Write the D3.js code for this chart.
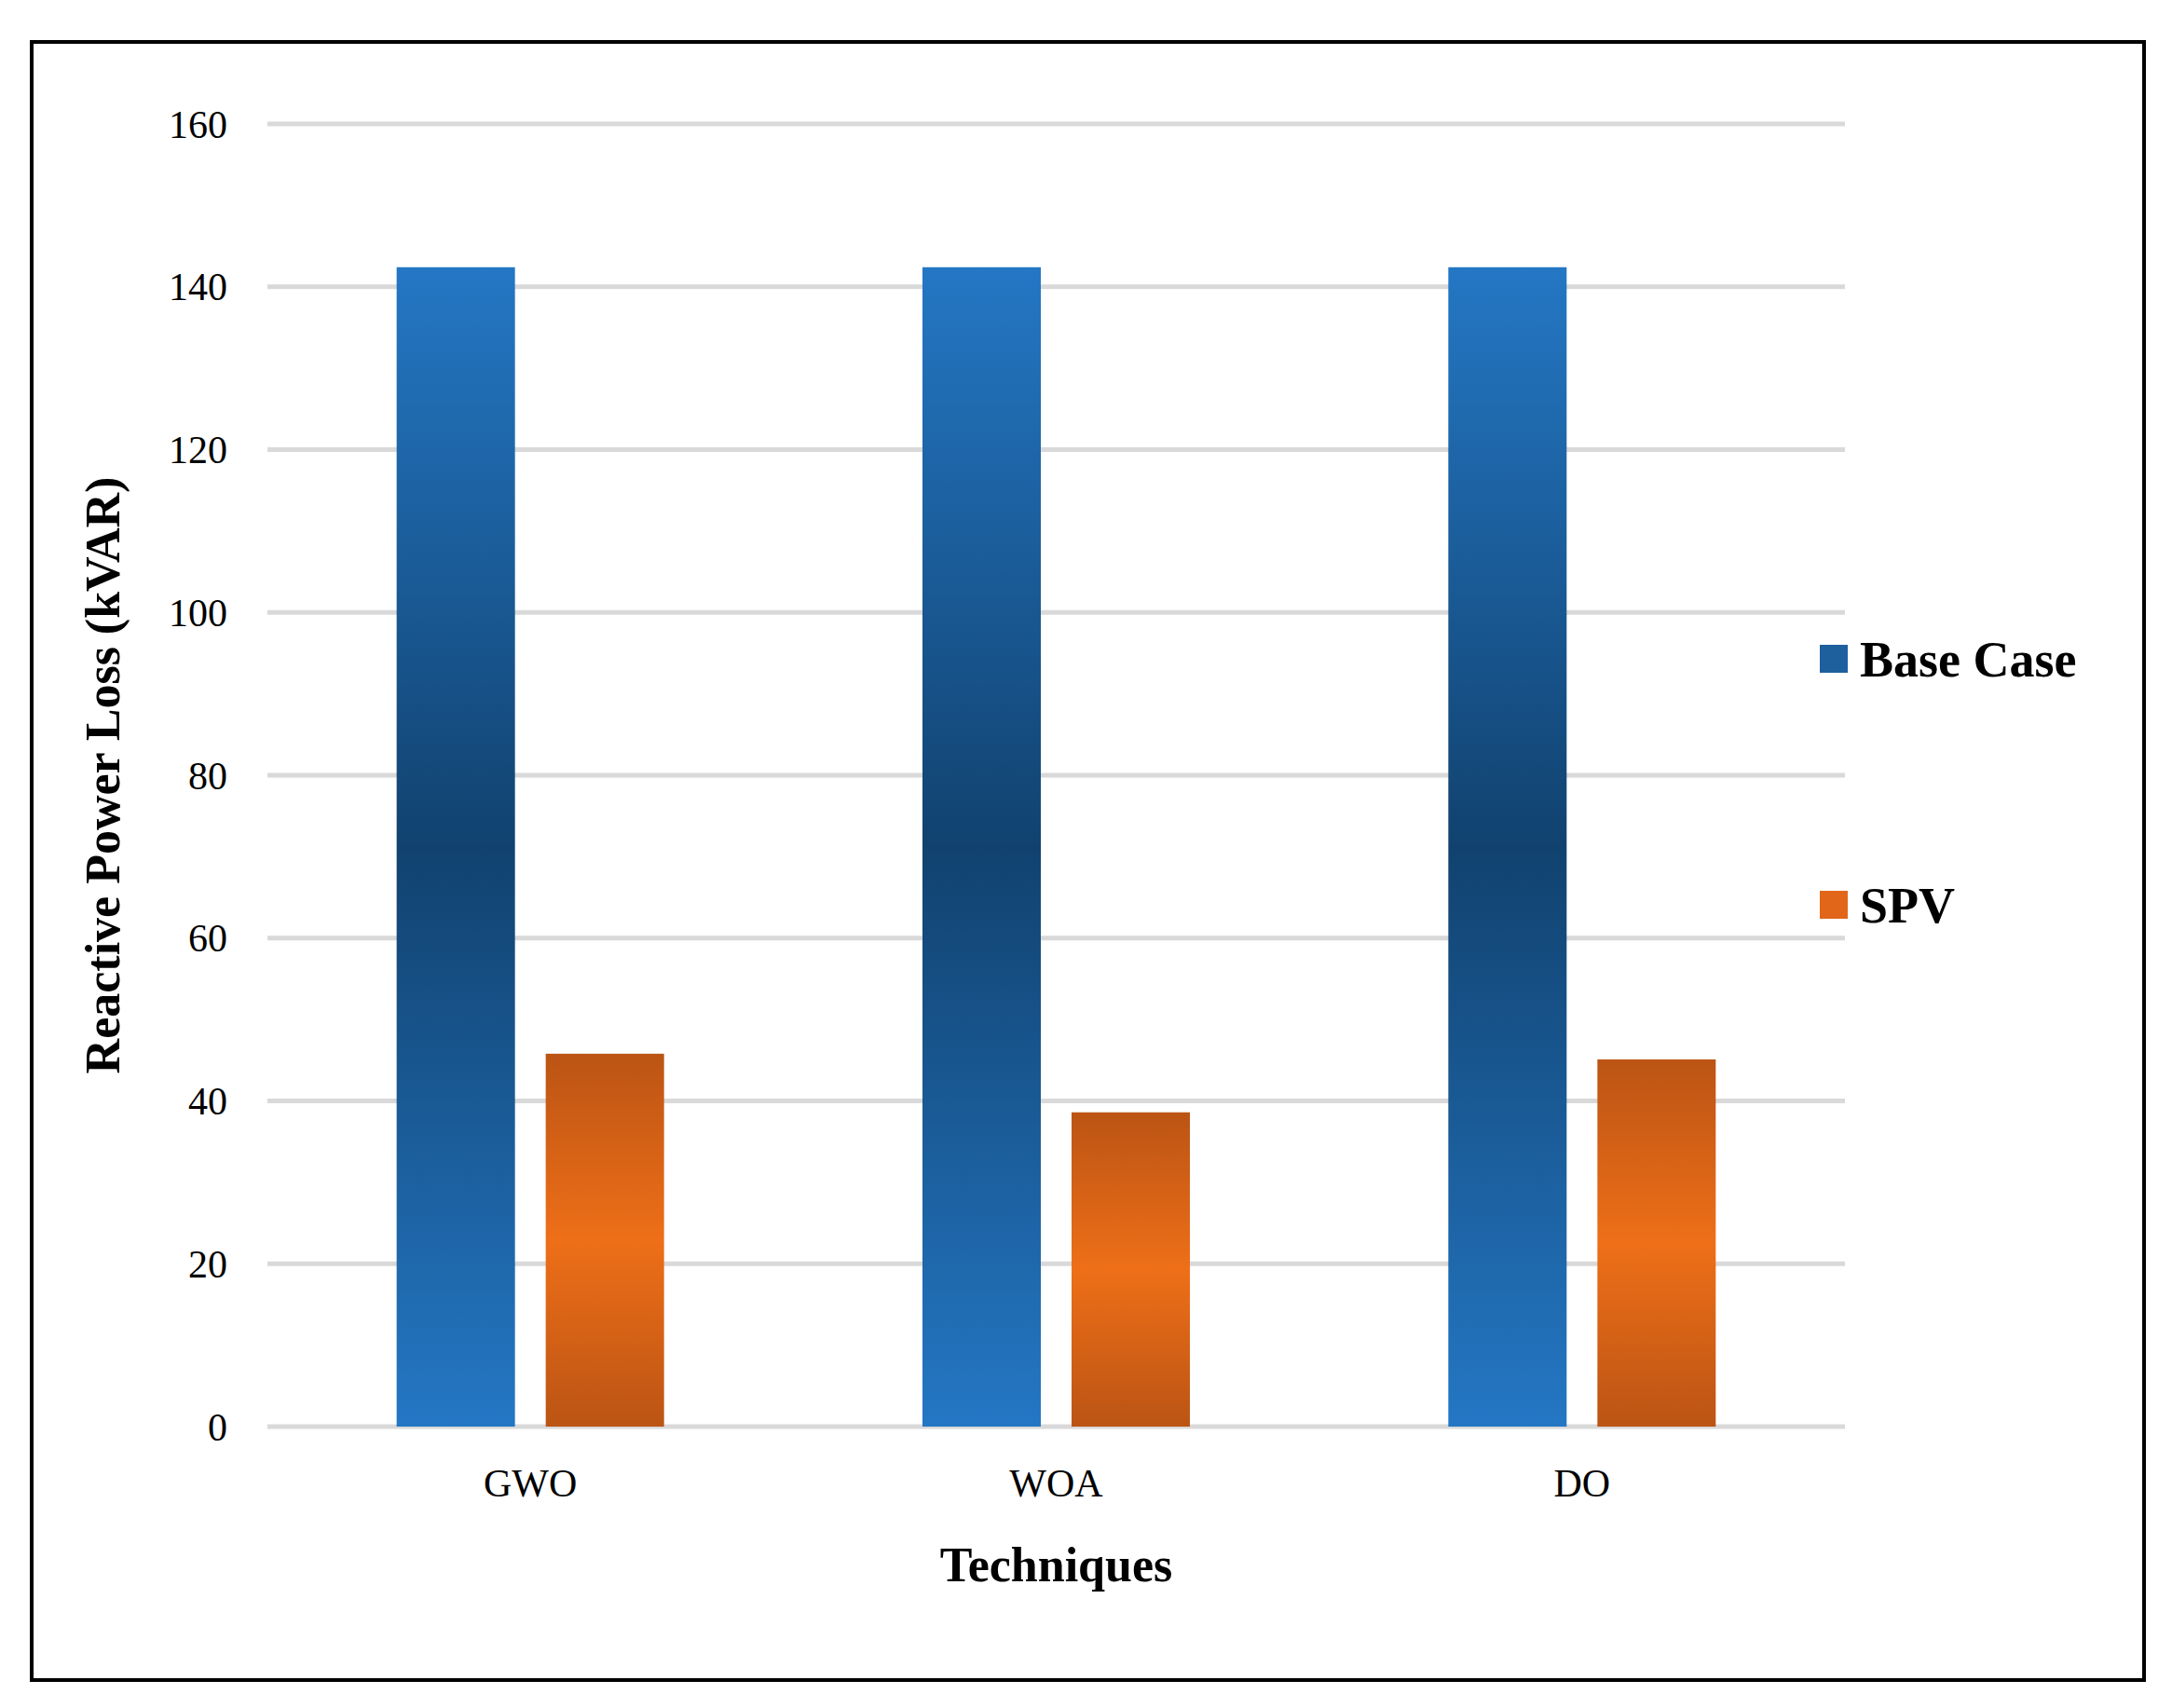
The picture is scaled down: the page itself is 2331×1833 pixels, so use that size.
<!DOCTYPE html><html><head><meta charset="utf-8"><script src="https://cdn.jsdelivr.net/npm/d3@7"></script>
<style>body{margin:0;background:#fff}svg{display:block;font-family:"Liberation Serif","Times New Roman",serif}</style></head><body>
<script>
const categories=["GWO","WOA","DO"];
const seriesNames=["Base Case","SPV"];
const baseCase=[142.4,142.4,142.4];
const spv=[45.8,38.6,45.1];
const yTicks=[0,20,40,60,80,100,120,140,160];
const W=2331,H=1833;
const svg=d3.select("body").append("svg").attr("width",W).attr("height",H);
const defs=svg.append("defs");
function grad(id,ends,mid){const g=defs.append("linearGradient").attr("id",id).attr("x1",0).attr("y1",0).attr("x2",0).attr("y2",1);
g.append("stop").attr("offset","0%").attr("stop-color",ends);g.append("stop").attr("offset","50%").attr("stop-color",mid);g.append("stop").attr("offset","100%").attr("stop-color",ends);}
grad("gb","#2477c4","#11426f");grad("go","#bb5414","#ee6f18");
svg.append("rect").attr("x",34).attr("y",45).attr("width",2267).attr("height",1758).attr("fill","#fff").attr("stroke","#000").attr("stroke-width",4);
const L=287,R=1980,T=133,B=1531;
const y=d3.scaleLinear().domain([0,160]).range([B,T]);
const x=d3.scaleBand().domain(categories).range([L,R]);
svg.append("g").selectAll("line").data(yTicks).join("line").attr("x1",L).attr("x2",R).attr("y1",d=>y(d)).attr("y2",d=>y(d)).attr("stroke","#d9d9d9").attr("stroke-width",5);
svg.append("g").selectAll("text").data(yTicks).join("text").attr("x",244).attr("y",d=>y(d)).attr("dy","0.35em").attr("text-anchor","end").attr("font-size",42).text(d=>d);
const bw=127,gap=33;
const series=[baseCase,spv],fills=["url(#gb)","url(#go)"];
series.forEach((s,i)=>{
svg.append("g").selectAll("rect").data(categories).join("rect")
.attr("x",c=>x(c)+x.bandwidth()/2-(bw+gap/2)+i*(bw+gap)).attr("width",bw)
.attr("y",(c,j)=>y(s[j])).attr("height",(c,j)=>y(0)-y(s[j])).attr("fill",fills[i]);});
svg.append("g").selectAll("text").data(categories).join("text").attr("x",c=>x(c)+x.bandwidth()/2).attr("y",1606).attr("text-anchor","middle").attr("font-size",42).text(d=>d);
svg.append("text").attr("x",(L+R)/2).attr("y",1697).attr("text-anchor","middle").attr("font-size",52).attr("font-weight","bold").text("Techniques");
svg.append("text").attr("transform","translate(128,832) rotate(-90)").attr("text-anchor","middle").attr("font-size",52).attr("font-weight","bold").text("Reactive Power Loss (kVAR)");
const ly=[707,971];
seriesNames.forEach((n,i)=>{
svg.append("rect").attr("x",1953).attr("y",ly[i]-15).attr("width",30).attr("height",30).attr("fill",i?"#e2661a":"#1e5f9e");
svg.append("text").attr("x",1996).attr("y",ly[i]).attr("dy","0.35em").attr("font-size",54).attr("font-weight","bold").text(n);});
</script></body></html>
